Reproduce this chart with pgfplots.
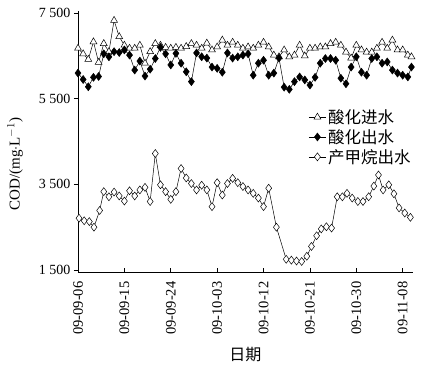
\documentclass[border=0pt]{standalone}
\usepackage{fontspec}
\setmainfont{Liberation Serif}
\newfontfamily\cjk{Noto Sans CJK SC}
\usepackage{pgfplots}
\pgfplotsset{compat=1.18}
\begin{document}
\begin{tikzpicture}[x=1bp,y=1bp]
\begin{axis}[
  at={(0,0)}, anchor=south west,
  scale only axis, width=335bp, height=261bp,
  xmin=0, xmax=65, ymin=1453, ymax=7550,
  axis lines=left, axis line style={-, line width=0.6pt},
  xtick={0,9,18,27,36,45,54,63},
  xticklabels={09-09-06,09-09-15,09-09-24,09-10-03,09-10-12,09-10-21,09-10-30,09-11-08},
  ytick={1500,3500,5500,7500},
  yticklabels={1\ 500,3\ 500,5\ 500,7\ 500},
  xtick align=inside, ytick align=outside,
  tick style={black, line width=0.6pt},
  major tick length=4bp,
  xticklabel shift=6bp,
  x tick label style={rotate=90, anchor=east, font=\fontsize{14.5bp}{17bp}\selectfont},
  y tick label style={font=\fontsize{14bp}{17bp}\selectfont},
  xlabel={\cjk 日期},
  ylabel={COD/(mg$\cdot$L$^{-1}$)},
  every axis x label/.style={at={(axis description cs:0.5,-0.318)}, anchor=center, font=\fontsize{16bp}{19bp}\selectfont},
  every axis y label/.style={at={(axis description cs:-0.188,0.413)}, rotate=90, anchor=center, font=\fontsize{15bp}{18bp}\selectfont},
  legend style={draw=none, fill=none, at={(axis description cs:0.685,0.635)}, anchor=north west,
    font=\cjk\fontsize{16.5bp}{19bp}\selectfont, row sep=0.5bp, inner sep=1bp},
  legend cell align=left,
  every axis plot/.append style={black, line width=0.5pt},
]
\addplot[mark=triangle*, mark options={fill=white, line width=0.5pt}, mark size=4pt] coordinates {
(0,6680)(1,6550)(2,6420)(3,6830)(4,6350)(5,6790)(6,6600)(7,7330)(8,6950)(9,6750)
(10,6680)(11,6680)(12,6750)(13,6330)(14,6600)(15,6790)(16,6750)(17,6700)(18,6680)(19,6700)
(20,6680)(21,6720)(22,6790)(23,6750)(24,6680)(25,6800)(26,6640)(27,6710)(28,6870)(29,6750)
(30,6820)(31,6750)(32,6680)(33,6710)(34,6680)(35,6750)(36,6820)(37,6710)(38,6520)(39,6480)
(40,6640)(41,6480)(42,6520)(43,6750)(44,6500)(45,6680)(46,6680)(47,6710)(48,6710)(49,6790)
(50,6820)(51,6750)(52,6590)(53,6450)(54,6750)(55,6640)(56,6590)(57,6590)(58,6680)(59,6820)
(60,6680)(61,6870)(62,6640)(63,6640)(64,6520)(64.7,6480)
};
\addlegendentry{酸化进水}
\addplot[mark=diamond*, mark options={fill=black}, mark size=4pt] coordinates {
(0,6100)(1,5950)(2,5780)(3,6000)(4,6020)(5,6550)(6,6480)(7,6600)(8,6580)(9,6640)
(10,6520)(11,6170)(12,6380)(13,6030)(14,6190)(15,6440)(16,6700)(17,6550)(18,6290)(19,6560)
(20,6330)(21,6130)(22,5900)(23,6570)(24,6480)(25,6450)(26,6240)(27,6210)(28,6120)(29,6570)
(30,6450)(31,6480)(32,6520)(33,6550)(34,6050)(35,6330)(36,6400)(37,6050)(38,6100)(39,6450)
(40,5770)(41,5720)(42,5900)(43,6010)(44,5940)(45,5820)(46,6000)(47,6330)(48,6440)(49,6440)
(50,6400)(51,5980)(52,5850)(53,6240)(54,6480)(55,6120)(56,6050)(57,6440)(58,6480)(59,6330)
(60,6360)(61,6170)(62,6100)(63,6050)(64,6010)(64.7,6240)
};
\addlegendentry{酸化出水}
\addplot[mark=diamond*, mark options={fill=white, line width=0.5pt}, mark size=4pt] coordinates {
(0.2,2710)(1.2,2650)(2.2,2630)(3.1,2500)(4.2,2890)(5,3330)(6,3210)(7,3320)(8,3230)(9,3110)
(10,3350)(11,3230)(12,3370)(13,3430)(14,3100)(15,4220)(16,3490)(17,3330)(18,3150)(19,3330)
(20,3870)(21,3650)(22,3520)(23,3370)(24,3480)(25,3370)(26,2980)(27,3540)(28,3250)(29,3520)
(30,3640)(31,3540)(32,3450)(33,3370)(34,3290)(35,3180)(36,2980)(37,3410)(38.5,2500)
(40.4,1750)(41.4,1730)(42.4,1710)(43.4,1700)(44.4,1820)(45.3,2050)(46.3,2300)(47.2,2460)(48.2,2510)(49.2,2480)
(50.3,3210)(51.3,3210)(52.2,3290)(53.2,3180)(54.3,3100)(55.3,3100)(56.4,3210)(57.4,3460)(58.3,3720)(59.2,3370)
(60.3,3490)(61.3,3280)(62.3,2950)(63.4,2830)(64.5,2730)
};
\addlegendentry{产甲烷出水}
\end{axis}
\path (-78bp,-98bp) rectangle (348bp,272bp);
\end{tikzpicture}
\end{document}
